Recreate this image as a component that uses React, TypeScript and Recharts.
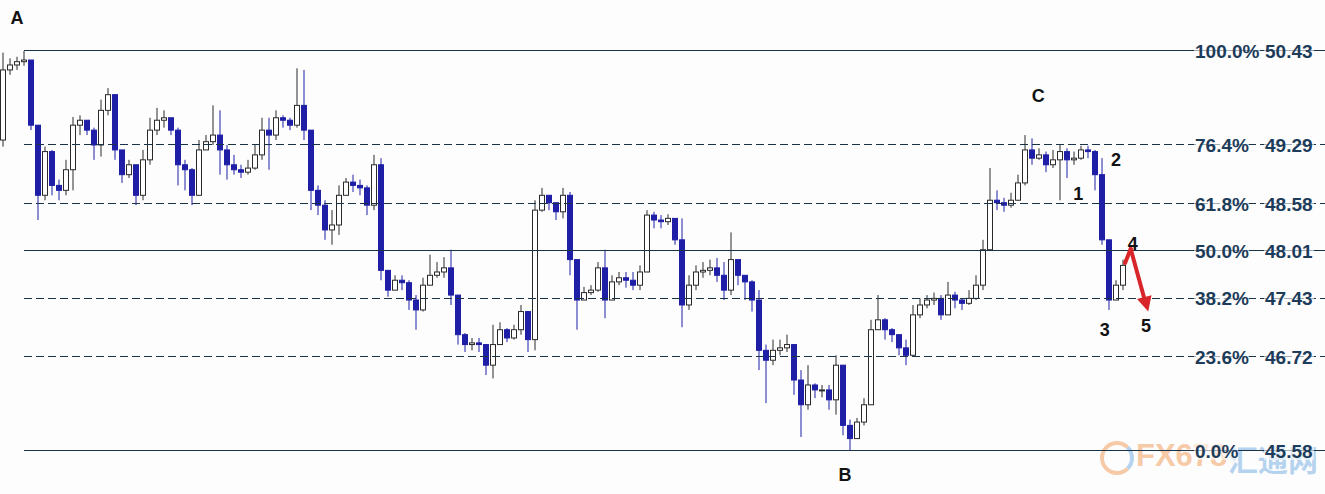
import { ComposedChart, Bar, XAxis, YAxis, ReferenceLine, ReferenceDot } from 'recharts'

// candle closes / highs / lows, one per bar, left to right
const firstOpen = 49.35
const closes = [
    50.2, 50.26, 50.3, 50.32, 49.53, 48.68, 49.21, 48.8, 48.74, 48.99,
    49.53, 49.59, 49.47, 49.29, 49.71, 49.9, 49.23, 48.93, 49.05, 48.68,
    49.11, 49.47, 49.59, 49.62, 49.47, 49.05, 48.99, 48.68, 49.23, 49.33,
    49.41, 49.23, 49.05, 48.99, 48.96, 49.01, 49.17, 49.47, 49.41, 49.62,
    49.59, 49.53, 49.77, 49.47, 48.74, 48.56, 48.26, 48.32, 48.68, 48.84,
    48.8, 48.77, 48.56, 49.05, 47.77, 47.53, 47.65, 47.62, 47.41, 47.29,
    47.59, 47.71, 47.75, 47.8, 47.47, 46.99, 46.87, 46.89, 46.87, 46.62,
    46.87, 47.05, 46.95, 47.05, 47.27, 46.93, 48.5, 48.68, 48.59, 48.48,
    48.68, 47.9, 47.41, 47.5, 47.53, 47.8, 47.41, 47.63, 47.68, 47.65,
    47.59, 47.75, 48.44, 48.38, 48.36, 48.4, 48.14, 47.35, 47.59, 47.75,
    47.77, 47.8, 47.71, 47.53, 47.9, 47.71, 47.63, 47.41, 46.8, 46.68,
    46.8, 46.83, 46.87, 46.44, 46.14, 46.38, 46.32, 46.32, 46.2, 46.62,
    45.89, 45.73, 45.93, 46.14, 47.05, 47.17, 47.05, 46.99, 46.83, 46.74,
    47.23, 47.35, 47.41, 47.43, 47.23, 47.47, 47.41, 47.37, 47.43, 47.59,
    48.02, 48.62, 48.59, 48.56, 48.62, 48.83, 49.23, 49.13, 49.17, 49.05,
    49.11, 49.21, 49.11, 49.13, 49.23, 49.21, 48.93, 48.14, 47.41, 47.59,
    47.83,
]
const highs = [
    50.41, 50.34, 50.36, 50.43, 50.32, 49.53, 49.27, 49.23, 48.87, 49.11,
    49.63, 49.65, 49.59, 49.5, 49.84, 49.98, 49.9, 49.23, 49.11, 49.05,
    49.23, 49.62, 49.74, 49.71, 49.62, 49.5, 49.11, 49.01, 49.35, 49.41,
    49.77, 49.71, 49.29, 49.17, 49.05, 49.11, 49.29, 49.62, 49.62, 49.71,
    49.65, 49.62, 50.22, 50.2, 49.47, 48.8, 48.62, 48.5, 48.8, 48.89,
    48.93, 48.87, 48.8, 49.17, 49.13, 47.77, 47.71, 47.71, 47.65, 47.47,
    47.68, 47.96, 47.87, 47.93, 48.02, 47.47, 47.01, 46.95, 46.95, 46.87,
    47.11, 47.14, 47.07, 47.11, 47.35, 47.27, 48.62, 48.77, 48.68, 48.59,
    48.77, 48.72, 47.9, 47.57, 47.59, 47.87, 48.02, 47.71, 47.75, 47.75,
    47.75, 47.83, 48.5, 48.48, 48.44, 48.45, 48.4, 48.4, 47.71, 47.83,
    47.87, 47.9, 47.92, 47.87, 48.23, 47.9, 47.71, 47.65, 47.53, 46.87,
    46.93, 46.93, 46.99, 46.87, 46.56, 46.62, 46.4, 46.38, 46.38, 46.74,
    46.62, 45.96, 45.98, 46.22, 47.17, 47.47, 47.19, 47.07, 46.99, 46.93,
    47.35, 47.43, 47.47, 47.5, 47.47, 47.63, 47.51, 47.43, 47.53, 47.71,
    48.14, 49.01, 48.74, 48.65, 48.71, 48.93, 49.41, 49.37, 49.25, 49.21,
    49.23, 49.29, 49.25, 49.21, 49.28, 49.28, 49.23, 49.13, 48.14, 47.65,
    47.9,
]
const lows = [
    49.27, 50.14, 50.2, 50.25, 49.47, 48.38, 48.62, 48.68, 48.62, 48.68,
    48.74, 49.41, 49.41, 49.11, 49.15, 49.65, 49.11, 48.83, 48.89, 48.56,
    48.62, 49.05, 49.41, 49.5, 49.41, 48.8, 48.74, 48.56, 48.68, 49.23,
    49.29, 48.93, 48.87, 48.93, 48.89, 48.93, 48.99, 49.11, 48.99, 49.35,
    49.5, 49.47, 49.5, 49.35, 48.5, 48.44, 48.14, 48.08, 48.2, 48.68,
    48.72, 48.68, 48.44, 48.5, 47.65, 47.45, 47.53, 47.53, 47.29, 47.05,
    47.27, 47.59, 47.68, 47.68, 47.35, 46.87, 46.78, 46.8, 46.78, 46.5,
    46.46, 46.87, 46.9, 46.93, 46.99, 46.78, 46.8, 48.48, 48.5, 48.38,
    48.4, 47.71, 47.05, 47.41, 47.47, 47.51, 47.19, 47.41, 47.59, 47.56,
    47.53, 47.53, 47.75, 48.28, 48.28, 48.32, 48.08, 47.08, 47.29, 47.53,
    47.68, 47.71, 47.63, 47.41, 47.47, 47.59, 47.41, 47.27, 46.56, 46.16,
    46.62, 46.74, 46.78, 46.26, 45.75, 46.08, 46.22, 46.23, 46.08, 46.02,
    45.77, 45.59, 45.73, 45.89, 46.14, 47.05, 46.93, 46.9, 46.74, 46.62,
    46.74, 47.19, 47.31, 47.35, 47.17, 47.23, 47.31, 47.29, 47.35, 47.41,
    47.53, 48.02, 48.5, 48.48, 48.53, 48.62, 48.8, 49.05, 49.11, 48.96,
    49.01, 48.62, 48.89, 49.05, 49.11, 49.13, 48.74, 48.08, 47.29, 47.41,
    47.53,
]

// fibonacci retracement A (50.43) -> B (45.58)
const fibPcts = ['100.0%', '76.4%', '61.8%', '50.0%', '38.2%', '23.6%', '0.0%']
const fibValues = [50.43, 49.29, 48.58, 48.01, 47.43, 46.72, 45.58]
const fibSolid = [true, false, false, true, false, false, true]

// wave labels
const markTexts = ['A', 'B', 'C', '1', '2', '3', '4', '5']
const markX = [2.0, 120.3, 147.9, 153.6, 159.0, 157.4, 161.4, 163.3]
const markY = [50.84, 45.3, 49.89, 48.7, 49.11, 47.05, 48.09, 47.1]

// projected move 4 -> 5
const arrowX = [160.3, 161.1, 163.2]
const arrowY = [47.86, 48.03, 47.38]
const arrowTip = { x: 163.6, y: 47.27 }

const W = 1325
const H = 494
const BG = '#fdfdfe'
const DOWN = '#1e1ea6'
const UP = '#2a2a2a'
const LINE = '#1a3346'
const LABEL = '#1d3c5a'
const FONT = '"Liberation Sans", Arial, sans-serif'

const candles = closes.map((close, i) => ({
    i,
    open: i === 0 ? firstOpen : closes[i - 1],
    close,
    high: highs[i],
    low: lows[i],
}))

const Candle = (props: any) => {
    const { x, y, width, height, payload } = props
    const top = Math.min(y, y + height)
    const bottom = Math.max(y, y + height)
    const { open, close, high, low } = payload
    const span = high - low || 1
    const toPx = (v: number) => top + ((high - v) / span) * (bottom - top)
    const cx = x + width / 2
    const down = close < open
    const color = down ? DOWN : UP
    const bTop = toPx(Math.max(open, close))
    const bBot = toPx(Math.min(open, close))
    return (
        <g>
            <line x1={cx} x2={cx} y1={top} y2={bottom} stroke={color} strokeWidth={1} />
            <rect
                x={cx - 2.5}
                y={bTop}
                width={5}
                height={Math.max(1, bBot - bTop)}
                fill={down ? DOWN : '#fff'}
                stroke={color}
                strokeWidth={1}
            />
        </g>
    )
}

const FibLabel = ({ viewBox, pct, value }: any) => {
    const right = viewBox.x + viewBox.width
    const y = viewBox.y
    const px = right - 130
    const vx = right - 60
    return (
        <g fontFamily={FONT} fontWeight="bold" fontSize={19} fill={LABEL}>
            <rect x={px - 1} y={y - 9} width={pct.length * 11} height={18} fill={BG} fillOpacity={0.6} />
            <rect x={vx - 1} y={y - 9} width={50} height={18} fill={BG} fillOpacity={0.6} />
            <text x={px} y={y + 7}>{pct}</text>
            <text x={vx} y={y + 7}>{value.toFixed(2)}</text>
        </g>
    )
}

export default function App() {
    return (
        <div
            style={{
                position: 'absolute',
                left: 0,
                top: 0,
                width: W,
                height: H,
                background: BG,
                overflow: 'hidden',
            }}
        >
            <div
                style={{
                    position: 'absolute',
                    left: 1100,
                    top: 441,
                    width: 26,
                    height: 26,
                    borderRadius: '50%',
                    border: '4px solid rgba(240,150,80,0.5)',
                    borderRightColor: 'rgba(110,170,225,0.5)',
                }}
            />
            <div
                style={{
                    position: 'absolute',
                    left: 1136,
                    top: 438,
                    fontFamily: FONT,
                    fontWeight: 'bold',
                    fontSize: 31,
                    color: 'rgba(240,150,80,0.5)',
                }}
            >
                FX678
            </div>
            <div
                style={{
                    position: 'absolute',
                    left: 1228,
                    top: 436,
                    fontFamily: '"Noto Sans CJK SC", sans-serif',
                    fontWeight: 'bold',
                    fontSize: 30,
                    color: 'rgba(110,170,225,0.5)',
                }}
            >
                汇通网
            </div>
            <div style={{ position: 'absolute', left: 0, top: 0 }}>
                <ComposedChart
                    width={W}
                    height={H}
                    data={candles}
                    margin={{ top: 0, right: 0, bottom: 0, left: 0 }}
                >
                    <XAxis
                        dataKey="i"
                        type="number"
                        domain={[-3 / 7, 1322 / 7]}
                        allowDataOverflow
                        hide
                    />
                    <YAxis type="number" domain={[45.058, 51.048]} allowDataOverflow hide />
                    {fibValues.map((v, k) => (
                        <ReferenceLine
                            key={fibPcts[k]}
                            segment={[
                                { x: 3, y: v },
                                { x: 1322 / 7, y: v },
                            ]}
                            stroke={LINE}
                            strokeWidth={1}
                            strokeDasharray={fibSolid[k] ? undefined : '8 4'}
                            shapeRendering="crispEdges"
                            ifOverflow="visible"
                            label={(p: any) => <FibLabel {...p} pct={fibPcts[k]} value={v} />}
                        />
                    ))}
                    <Bar
                        dataKey={(d: any) => [d.low, d.high]}
                        shape={Candle}
                        barSize={5}
                        isAnimationActive={false}
                    />
                    {arrowX.slice(1).map((x, k) => (
                        <ReferenceLine
                            key={`arrow-${k}`}
                            segment={[
                                { x: arrowX[k], y: arrowY[k] },
                                { x, y: arrowY[k + 1] },
                            ]}
                            stroke="#d8262a"
                            strokeWidth={4}
                            strokeLinecap="round"
                            ifOverflow="visible"
                        />
                    ))}
                    <ReferenceDot
                        x={arrowTip.x}
                        y={arrowTip.y}
                        r={1}
                        ifOverflow="visible"
                        shape={(p: any) => (
                            <polygon
                                points="0,0 -15,-7.5 -15,7.5"
                                fill="#d8262a"
                                transform={`translate(${p.cx},${p.cy}) rotate(74.8)`}
                            />
                        )}
                    />
                    {markTexts.map((t, k) => (
                        <ReferenceDot
                            key={`mark-${t}`}
                            x={markX[k]}
                            y={markY[k]}
                            r={1}
                            ifOverflow="visible"
                            shape={(p: any) => (
                                <text
                                    x={p.cx}
                                    y={p.cy + 6.5}
                                    textAnchor="middle"
                                    fontFamily={FONT}
                                    fontWeight="bold"
                                    fontSize={18}
                                    fill="#111"
                                >
                                    {t}
                                </text>
                            )}
                        />
                    ))}
                </ComposedChart>
            </div>
        </div>
    )
}
